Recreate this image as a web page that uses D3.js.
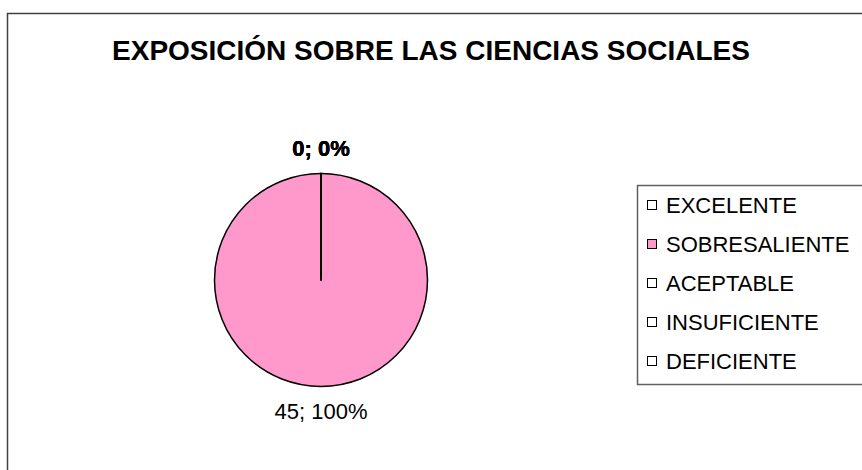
<!DOCTYPE html>
<html>
<head>
<meta charset="utf-8">
<script src="https://cdnjs.cloudflare.com/ajax/libs/d3/7.8.5/d3.min.js"></script>
<style>
  body { margin: 0; background: #fff; }
  text { font-family: Arial, "Liberation Sans", sans-serif; }
</style>
</head>
<body>
<div id="chart"></div>
<script>
// data
var categories = ["EXCELENTE", "SOBRESALIENTE", "ACEPTABLE", "INSUFICIENTE", "DEFICIENTE"];
var values = [0, 45, 0, 0, 0];
var colors = ["#ffffff", "#ff99cc", "#ffffff", "#ffffff", "#ffffff"];
var title = "EXPOSICIÓN SOBRE LAS CIENCIAS SOCIALES";

var width = 862, height = 470;
var cx = 321, cy = 280, r = 106.5;

var svg = d3.select("#chart").append("svg")
  .attr("width", width)
  .attr("height", height);

// chart area frame
svg.append("rect")
  .attr("x", 7.5).attr("y", 13.5)
  .attr("width", 900).attr("height", 500)
  .attr("fill", "#fff")
  .attr("stroke", "#404040")
  .attr("stroke-width", 1.5);

// title
svg.append("text")
  .attr("x", 431).attr("y", 60)
  .attr("text-anchor", "middle")
  .attr("font-size", "28px")
  .attr("font-weight", "bold")
  .text(title);

var total = d3.sum(values);
var dat = categories.map(function(c, i) { return {key: c, value: values[i], color: colors[i]}; });

var pie = d3.pie().sort(null).value(function(d) { return d.value; });
var arcs = pie(dat);
var arc = d3.arc().innerRadius(0).outerRadius(r);
var labelArc = d3.arc().innerRadius(r + 25).outerRadius(r + 25);

var g = svg.append("g").attr("transform", "translate(" + cx + "," + cy + ")");

g.selectAll("path.slice")
  .data(arcs)
  .enter().append("path")
    .attr("class", "slice")
    .attr("d", arc)
    .attr("fill", function(d) { return d.data.color; })
    .attr("stroke", "#000")
    .attr("stroke-width", 1.5)
    .attr("stroke-linejoin", "round");

// zero slices collapse to a single radius line at the top
g.selectAll("line.zero")
  .data(arcs.filter(function(d) { return d.value === 0; }))
  .enter().append("line")
    .attr("class", "zero")
    .attr("x1", 0).attr("y1", 0)
    .attr("x2", function(d) { return r * Math.sin(d.startAngle); })
    .attr("y2", function(d) { return -r * Math.cos(d.startAngle); })
    .attr("stroke", "#000")
    .attr("stroke-width", 2);

// data labels "value; percent" (the zero ones stack on top of each other)
g.selectAll("text.label")
  .data(arcs)
  .enter().append("text")
    .attr("class", "label")
    .attr("transform", function(d) { return "translate(" + labelArc.centroid(d) + ")"; })
    .attr("text-anchor", "middle")
    .attr("dy", "0.36em")
    .attr("font-size", "22px")
    .attr("font-weight", function(d) { return d.value === 0 ? "bold" : "normal"; })
    .attr("fill", "#000")
    .text(function(d) { return d.value + "; " + Math.round(d.value / total * 100) + "%"; });

// legend
var legend = svg.append("g");
legend.append("rect")
  .attr("x", 637.5).attr("y", 185.5)
  .attr("width", 240).attr("height", 199)
  .attr("fill", "#fff")
  .attr("stroke", "#606060")
  .attr("stroke-width", 1.5);

var item = legend.selectAll("g.item")
  .data(dat)
  .enter().append("g")
    .attr("class", "item")
    .attr("transform", function(d, i) { return "translate(0," + (205 + i * 39) + ")"; });

item.append("rect")
  .attr("x", 647.5).attr("y", -4.5)
  .attr("width", 9).attr("height", 9)
  .attr("fill", function(d) { return d.color; })
  .attr("stroke", "#000")
  .attr("stroke-width", 1);

item.append("text")
  .attr("x", 666).attr("y", 0)
  .attr("dy", "0.36em")
  .attr("font-size", "22px")
  .text(function(d) { return d.key; });
</script>
</body>
</html>
